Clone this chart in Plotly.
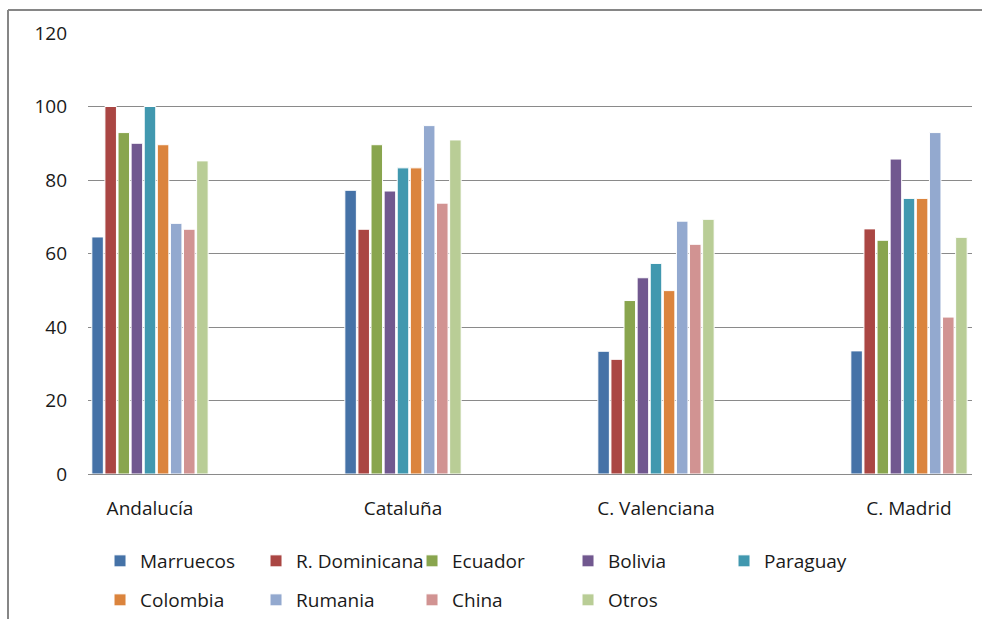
import plotly.graph_objects as go

# Regions on the category axis
regions = ["Andalucía", "Cataluña", "C. Valenciana", "C. Madrid"]

# One series per country of origin
marruecos = [64.5, 77.2, 33.4, 33.5]
r_dominicana = [100.0, 66.6, 31.2, 66.7]
ecuador = [92.9, 89.6, 47.2, 63.6]
bolivia = [90.0, 77.0, 53.4, 85.7]
paraguay = [100.0, 83.3, 57.3, 75.0]
colombia = [89.6, 83.3, 49.9, 75.0]
rumania = [68.2, 94.8, 68.8, 92.9]
china = [66.6, 73.7, 62.5, 42.7]
otros = [85.2, 90.9, 69.3, 64.4]

series_names = ["Marruecos", "R. Dominicana", "Ecuador", "Bolivia", "Paraguay",
                "Colombia", "Rumania", "China", "Otros"]
series_values = [marruecos, r_dominicana, ecuador, bolivia, paraguay,
                 colombia, rumania, china, otros]
series_colors = ["#4572A7", "#AA4643", "#89A54E", "#71588F", "#4198AF",
                 "#DB843D", "#93A9CF", "#D19392", "#B9CD96"]

y_ticks = [0, 20, 40, 60, 80, 100, 120]

FONT = "Open Sans"
FONT_SIZE = 19
TEXT_COLOR = "#1a1a1a"

fig = go.Figure()
for i, (name, vals, col) in enumerate(zip(series_names, series_values, series_colors)):
    fig.add_trace(go.Bar(
        x=list(range(len(regions))),
        y=vals,
        name=name,
        marker=dict(color=col, line=dict(color="white", width=1)),
        legend="legend" if i < 5 else "legend2",
    ))

legend_common = dict(
    orientation="h",
    xanchor="left",
    yanchor="middle",
    yref="container",
    entrywidth=111,
    entrywidthmode="pixels",
    font=dict(family=FONT, size=FONT_SIZE, color=TEXT_COLOR),
    bgcolor="rgba(0,0,0,0)",
    borderwidth=0,
    traceorder="normal",
)

fig.update_layout(
    width=982,
    height=619,
    margin=dict(l=88, r=10, t=33, b=145, autoexpand=False),
    paper_bgcolor="white",
    plot_bgcolor="white",
    barmode="group",
    bargap=0.534,
    bargroupgap=0.12,
    font=dict(family=FONT, size=FONT_SIZE, color=TEXT_COLOR),
    showlegend=True,
    legend=dict(x=0.0136, y=0.0937, **legend_common),
    legend2=dict(x=0.0136, y=0.0307, **legend_common),
    xaxis=dict(
        tickmode="array",
        tickvals=list(range(len(regions))),
        ticktext=regions,
        range=[-0.245, 3.249],
        showgrid=False,
        showline=True,
        linecolor="#8a8a8a",
        linewidth=1,
        ticks="",
        ticklabelstandoff=17,
        zeroline=False,
        automargin=False,
        tickfont=dict(family=FONT, size=FONT_SIZE, color=TEXT_COLOR),
    ),
    yaxis=dict(
        range=[0, 120],
        tickmode="array",
        tickvals=y_ticks,
        showgrid=True,
        gridcolor="#8a8a8a",
        gridwidth=1,
        zeroline=False,
        showline=False,
        ticks="",
        ticklabelstandoff=20,
        automargin=False,
        tickfont=dict(family=FONT, size=FONT_SIZE, color=TEXT_COLOR),
    ),
    shapes=[
        dict(type="line", xref="paper", yref="paper",
             x0=-0.0905, x1=1.2, y0=1.0522, y1=1.0522,
             line=dict(color="#868686", width=2)),
        dict(type="line", xref="paper", yref="paper",
             x0=-0.0905, x1=-0.0905, y0=1.0522, y1=-0.4,
             line=dict(color="#868686", width=2)),
    ],
)

fig.write_html("out.html")
